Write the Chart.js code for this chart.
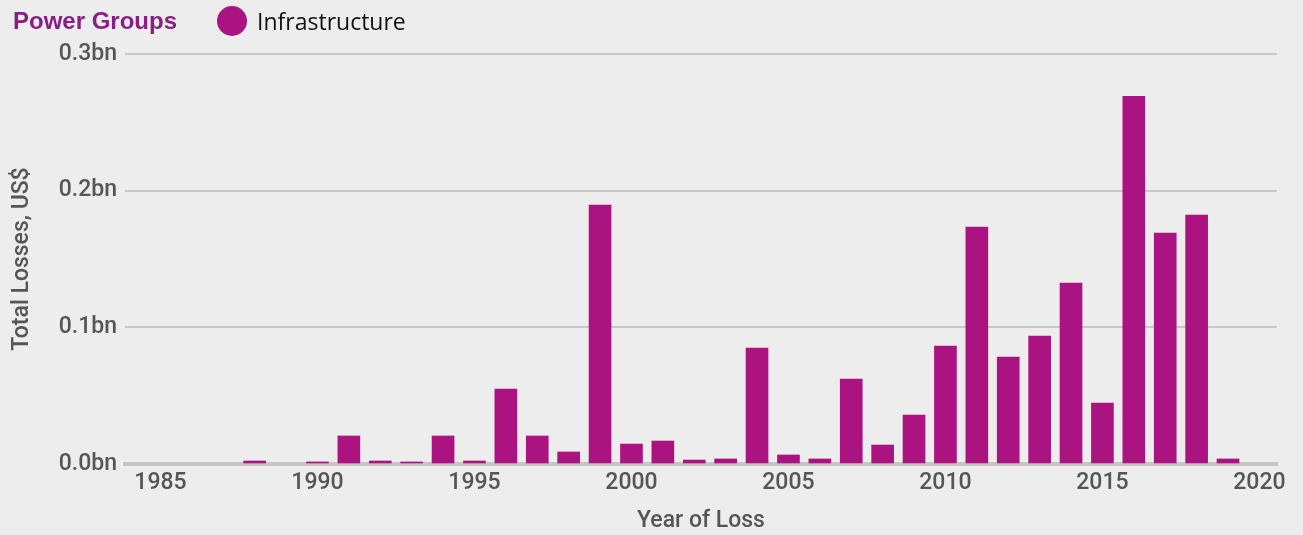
<!DOCTYPE html>
<html>
<head>
<meta charset="utf-8">
<script src="https://cdn.jsdelivr.net/npm/chart.js@4/dist/chart.umd.min.js"></script>
<style>
  html, body { margin: 0; padding: 0; background: #ededed; }
  #wrap { position: relative; width: 1303px; height: 535px; }
  #head {
    position: absolute; left: 13px; top: 4px; height: 34px;
    display: flex; align-items: center;
  }
  #head .title { font-family: "Liberation Sans", Arial, sans-serif; font-weight: 700; font-size: 24px; color: #8b1e84; }
  #head .dot { width: 30px; height: 30px; border-radius: 50%; background: #ab1380; margin-left: 40px; }
  #head .name { font-family: "Open Sans", sans-serif; font-size: 23px; color: #111; margin-left: 10px; }
  canvas { position: absolute; left: 0; top: 0; }
</style>
</head>
<body>
<div id="wrap">
  <canvas id="losses" width="1303" height="535"></canvas>
  <div id="head">
    <span class="title">Power Groups</span>
    <span class="dot"></span>
    <span class="name">Infrastructure</span>
  </div>
</div>
<script>
const years = [1988, 1990, 1991, 1992, 1993, 1994, 1995, 1996, 1997, 1998, 1999,
  2000, 2001, 2002, 2003, 2004, 2005, 2006, 2007, 2008, 2009,
  2010, 2011, 2012, 2013, 2014, 2015, 2016, 2017, 2018, 2019];
// total losses in US$ bn
const losses = [0.0022, 0.0015, 0.0205, 0.0022, 0.0015, 0.0205, 0.0022, 0.0548, 0.0205, 0.0088, 0.1894,
  0.0146, 0.0168, 0.0029, 0.0037, 0.0848, 0.0066, 0.0037, 0.0622, 0.0139, 0.0358,
  0.0863, 0.1733, 0.0782, 0.0936, 0.1324, 0.0446, 0.2691, 0.1689, 0.1821, 0.0037];
const yearTicks = [1985, 1990, 1995, 2000, 2005, 2010, 2015, 2020];
const seriesName = "Infrastructure";

const grey = "#555555";
const font = { family: "Roboto, sans-serif", size: 23, weight: "500" };

new Chart(document.getElementById("losses"), {
  type: "bar",
  data: {
    datasets: [{
      label: seriesName,
      data: years.map((y, i) => ({ x: y, y: losses[i] })),
      backgroundColor: "#ab1380",
      barThickness: 22
    }]
  },
  options: {
    responsive: false,
    animation: false,
    layout: { padding: { top: 54, right: 26, left: 0, bottom: 0 } },
    plugins: { legend: { display: false }, tooltip: { enabled: false } },
    scales: {
      x: {
        type: "linear",
        offset: false,
        min: 1983.87,
        max: 2020.56,
        afterBuildTicks: (scale) => { scale.ticks = yearTicks.map(v => ({ value: v })); },
        afterFit: (scale) => { scale.height = 71; },
        grid: { display: false, drawTicks: false },
        border: { display: true, color: "#c6c6c6", width: 4 },
        ticks: { color: grey, font: font, padding: 5, maxRotation: 0, callback: v => String(v) },
        title: { display: true, text: "Year of Loss", color: grey, font: font, padding: { top: 0, bottom: 0 } }
      },
      y: {
        min: 0,
        max: 0.3,
        afterFit: (scale) => { scale.width = 125; },
        ticks: { stepSize: 0.1, color: grey, font: font, padding: 8, callback: v => v.toFixed(1) + "bn" },
        grid: { color: "#c8c8c8", lineWidth: 2, drawTicks: false },
        border: { display: false },
        title: { display: true, text: "Total Losses, US$", color: grey, font: font, padding: { top: 8, bottom: 0 } }
      }
    }
  }
});
</script>
</body>
</html>
